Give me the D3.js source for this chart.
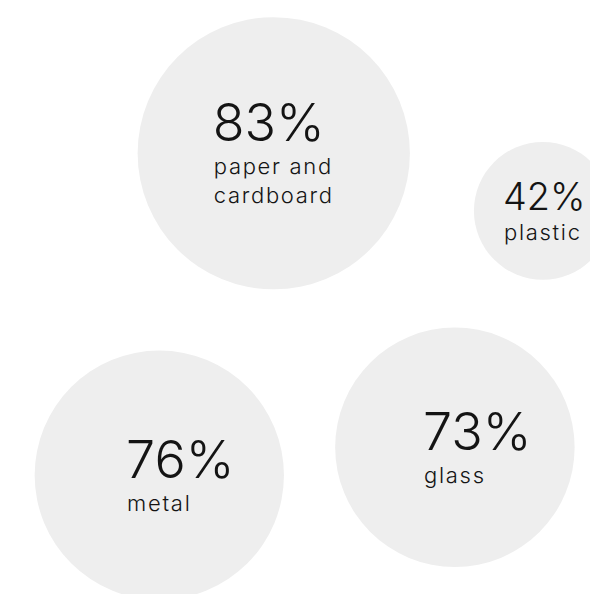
<!DOCTYPE html>
<html>
<head>
<meta charset="utf-8">
<script src="https://cdn.jsdelivr.net/npm/d3@7.9.0/dist/d3.min.js"></script>
<style>
  html, body { margin: 0; padding: 0; background: #fff; overflow: hidden; }
  svg { display: block; font-family: Inter, "Open Sans", sans-serif; }
</style>
</head>
<body>
<svg id="chart" width="590" height="594"></svg>
<script>
// Share of packaging waste recycled, by material
const materials = ['paper and cardboard', 'plastic', 'metal', 'glass'];
const rates = [83, 42, 76, 73];
// bubble layout (fraction of canvas)
const layoutX = [0.464, 0.920, 0.270, 0.771];
const layoutY = [0.258, 0.355, 0.800, 0.753];

const width = 590, height = 594;
const svg = d3.select('#chart');

const x = d3.scaleLinear().domain([0, 1]).range([0, width]);
const y = d3.scaleLinear().domain([0, 1]).range([0, height]);
const r = d3.scaleLinear().domain([0, 100]).range([0, 164]);

const data = materials.map((m, i) => ({
  label: m, value: rates[i], x: layoutX[i], y: layoutY[i]
}));

const g = svg.selectAll('g.bubble')
  .data(data)
  .join('g')
  .attr('class', 'bubble')
  .attr('transform', d => `translate(${x(d.x)},${y(d.y)})`);

g.append('circle')
  .attr('r', d => r(d.value))
  .attr('fill', '#eeeeee');

// wrap the label to lines of at most ~10 characters
function wrap(label) {
  const words = label.split(' ');
  const lines = [];
  let cur = '';
  words.forEach(w => {
    const next = cur ? cur + ' ' + w : w;
    if (next.length > 10 && cur) { lines.push(cur); cur = w; }
    else cur = next;
  });
  if (cur) lines.push(cur);
  return lines;
}

g.each(function (d) {
  const node = d3.select(this);
  const fs = Math.min(52, r(d.value) * 0.55);
  const lines = wrap(d.label);
  const gap = fs > 45 ? 33 : 30, lineH = 29;

  const block = node.append('g').attr('fill', '#141414');
  block.append('text')
    .attr('y', 0)
    .attr('font-size', fs)
    .attr('font-weight', 300)
    .text(d.value + '%');
  const lab = block.append('g');
  lines.forEach((ln, i) => {
    lab.append('text')
      .attr('x', 1)
      .attr('y', gap + i * lineH)
      .attr('font-size', 22)
      .attr('font-weight', 300)
      .attr('letter-spacing', 1.7)
      .text(ln);
  });

  // block is centred on the label width (the big number may overhang),
  // and vertically between the number's cap top and the last baseline
  const lb = lab.node().getBBox();
  const capTop = -0.727 * fs;
  const lastBase = gap + (lines.length - 1) * lineH;
  block.attr('transform',
    `translate(${-lb.x - lb.width / 2},${-(capTop + lastBase) / 2})`);
});
</script>
</body>
</html>
